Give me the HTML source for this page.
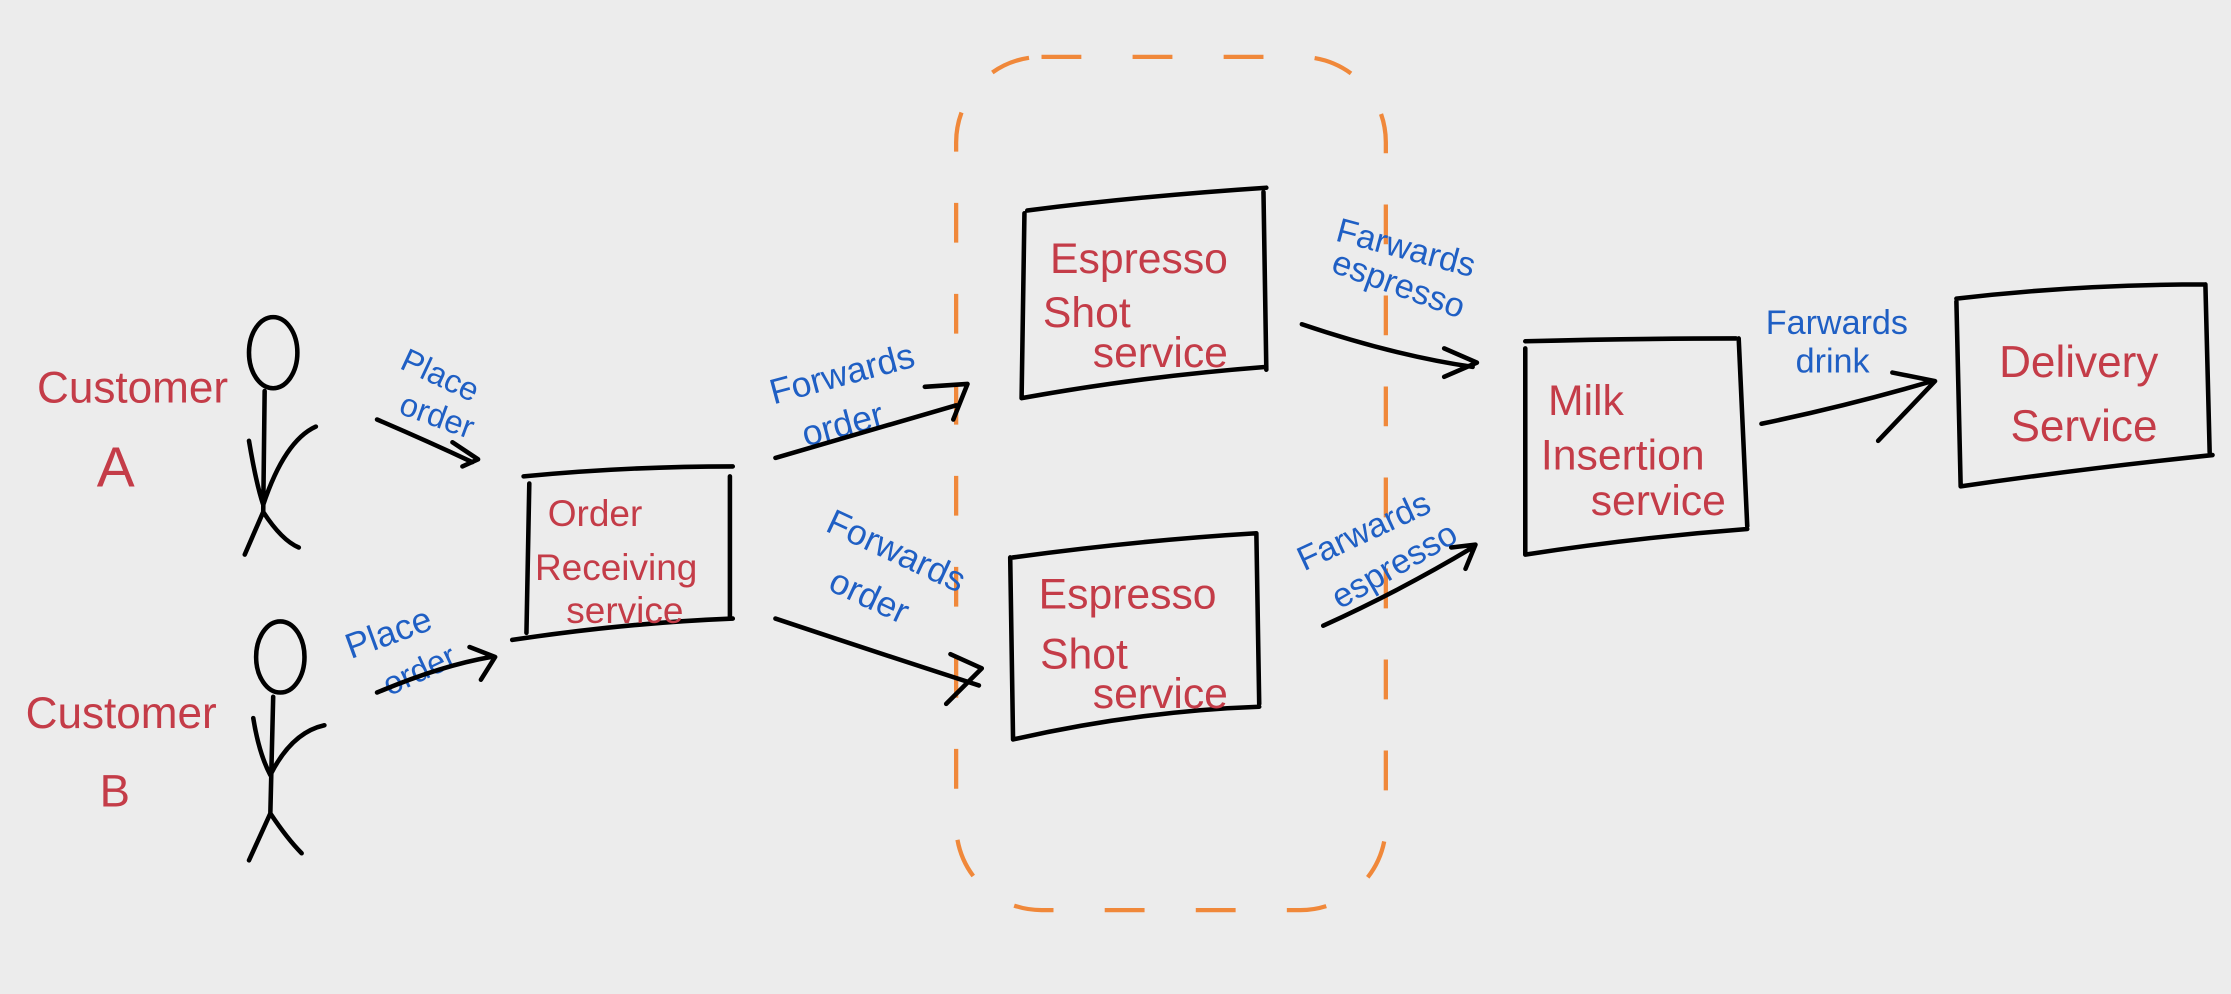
<!DOCTYPE html>
<html><head><meta charset="utf-8"><style>
html,body{margin:0;padding:0;background:#ececec;}
svg{display:block;}
text{font-family:"Liberation Sans",sans-serif;}
.r{fill:#c43c48;font-size:29px;}
.b{fill:#1f5fc4;font-size:23px;}
.k{fill:none;stroke:#000;stroke-width:3.2;stroke-linecap:round;stroke-linejoin:round;}
</style></head><body>
<svg width="2231" height="994" viewBox="0 0 1568 699" preserveAspectRatio="none">
<rect width="1568" height="699" fill="#ececec"/>
<rect x="672" y="40" width="302" height="600" rx="60" fill="none" stroke="#f0883a" stroke-width="3" stroke-dasharray="28 36"/>
<text class="r" x="26" y="283" style="font-size:31px">Customer</text>
<text class="r" x="68" y="342" style="font-size:40px">A</text>
<text class="r" x="18" y="512" style="font-size:31px">Customer</text>
<text class="r" x="70" y="567" style="font-size:32px">B</text>
<ellipse class="k" cx="192" cy="248" rx="17" ry="25"/>
<path class="k" d="M186 275 L185 360 M175 310 Q180 340 185 355 M185 355 Q200 310 222 300 M185 360 L172 390 M185 360 Q198 380 210 385"/>
<ellipse class="k" cx="197" cy="462" rx="17" ry="25"/>
<path class="k" d="M192 490 L190 572 M178 505 Q182 530 190 545 M190 545 Q205 515 228 510 M190 572 L175 605 M190 572 Q202 590 212 600"/>
<text class="b" x="278" y="268" transform="rotate(25 300 268)">Place</text>
<text class="b" x="278" y="298" transform="rotate(20 300 298)">order</text>
<path class="k" d="M265 295 Q300 310 332 325 M318 311 L336 323 L325 328"/>
<text class="b" x="245" y="455" transform="rotate(-20 270 455)" style="font-size:25px">Place</text>
<text class="b" x="272" y="482" transform="rotate(-25 290 482)">order</text>
<path class="k" d="M265 487 Q310 468 345 462 M330 455 L348 462 L338 478"/>
<path class="k" d="M368 335 Q440 328 515 328 M372 340 L370 445 M513 335 L513 435 M360 450 Q440 438 515 435"/>
<text class="r" x="385" y="370" style="font-size:26px">Order</text>
<text class="r" x="376" y="408" style="font-size:26px">Receiving</text>
<text class="r" x="398" y="438" style="font-size:26px">service</text>
<text class="b" x="542" y="272" transform="rotate(-15 590 272)" style="font-size:25px">Forwards</text>
<text class="b" x="565" y="305" transform="rotate(-15 600 305)" style="font-size:25px">order</text>
<path class="k" d="M545 322 Q620 300 672 285 M650 272 L680 270 L670 295"/>
<text class="b" x="575" y="392" transform="rotate(25 620 392)" style="font-size:25px">Forwards</text>
<text class="b" x="578" y="428" transform="rotate(25 610 428)" style="font-size:25px">order</text>
<path class="k" d="M545 435 Q620 460 688 482 M668 460 L690 470 L665 495"/>
<path class="k" d="M722 148 Q800 138 890 132 M720 150 L718 280 M888 135 L890 260 M718 280 Q800 265 890 258"/>
<text class="r" x="738" y="192" style="font-size:30px">Espresso</text>
<text class="r" x="733" y="230" style="font-size:30px">Shot</text>
<text class="r" x="768" y="258" style="font-size:30px">service</text>
<path class="k" d="M712 392 Q800 380 883 375 M710 392 L712 520 M883 375 L885 495 M712 520 Q800 500 885 497"/>
<text class="r" x="730" y="428" style="font-size:30px">Espresso</text>
<text class="r" x="731" y="470" style="font-size:30px">Shot</text>
<text class="r" x="768" y="498" style="font-size:30px">service</text>
<text class="b" x="936" y="183" transform="rotate(15 990 183)" style="font-size:24px">Farwards</text>
<text class="b" x="931" y="211" transform="rotate(20 990 211)" style="font-size:24px">espresso</text>
<path class="k" d="M915 228 Q980 250 1035 258 M1015 245 L1038 255 L1015 265"/>
<text class="b" x="905" y="380" transform="rotate(-25 960 365)" style="font-size:24px">Farwards</text>
<text class="b" x="930" y="405" transform="rotate(-30 980 395)" style="font-size:24px">espresso</text>
<path class="k" d="M930 440 Q985 415 1035 385 M1020 385 L1037 383 L1030 400"/>
<path class="k" d="M1072 240 Q1150 238 1220 238 M1072 245 L1072 390 M1222 238 L1228 370 M1072 390 Q1150 378 1228 372"/>
<text class="r" x="1088" y="292" style="font-size:30px">Milk</text>
<text class="r" x="1083" y="330" style="font-size:30px">Insertion</text>
<text class="r" x="1118" y="362" style="font-size:30px">service</text>
<text class="b" x="1241" y="235" style="font-size:24px">Farwards</text>
<text class="b" x="1262" y="262" style="font-size:24px">drink</text>
<path class="k" d="M1238 298 Q1300 285 1358 268 M1330 262 L1360 268 L1320 310"/>
<path class="k" d="M1375 210 Q1460 200 1550 200 M1375 212 L1378 342 M1550 200 L1553 318 M1378 342 Q1460 330 1555 320"/>
<text class="r" x="1405" y="265" style="font-size:31px">Delivery</text>
<text class="r" x="1413" y="310" style="font-size:31px">Service</text>
</svg>
</body></html>
